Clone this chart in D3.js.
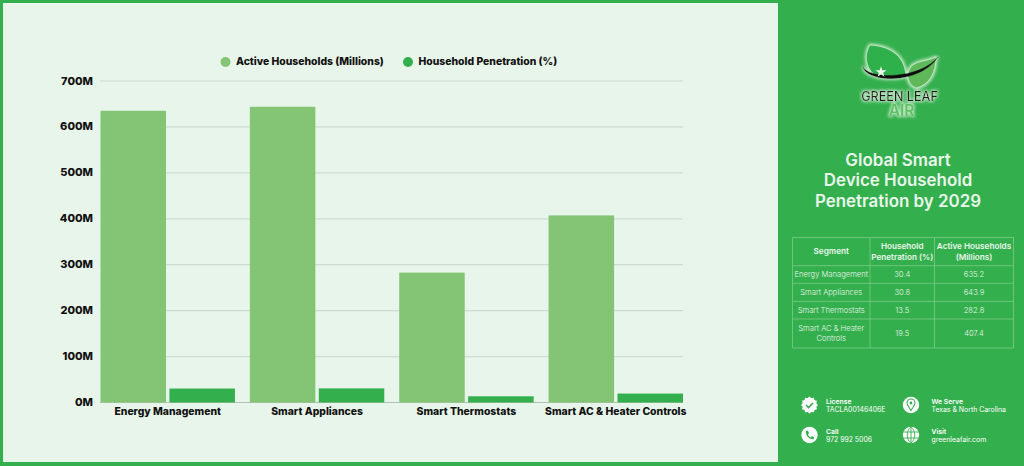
<!DOCTYPE html>
<html>
<head>
<meta charset="utf-8">
<script src="https://cdn.jsdelivr.net/npm/d3@7"></script>
<style>
  html, body { margin: 0; padding: 0; background: #34af4d; overflow: hidden; }
  svg { display: block; font-family: Inter, "Open Sans", sans-serif; }
</style>
</head>
<body>
<svg id="chart" width="1024" height="466"></svg>
<script>
const categories = ["Energy Management", "Smart Appliances", "Smart Thermostats", "Smart AC & Heater Controls"];
const seriesNames = ["Active Households (Millions)", "Household Penetration (%)"];
const activeHouseholds = [635.2, 643.9, 282.8, 407.4];
const penetration = [30.4, 30.8, 13.5, 19.5];
const yTicks = [0, 100, 200, 300, 400, 500, 600, 700];
const titleLines = ["Global Smart", "Device Household", "Penetration by 2029"];
const tableHeader = [["Segment"], ["Household", "Penetration (%)"], ["Active Households", "(Millions)"]];
const tableRows = [
    [["Energy Management"], "30.4", "635.2"],
    [["Smart Appliances"], "30.8", "643.9"],
    [["Smart Thermostats"], "13.5", "282.8"],
    [["Smart AC & Heater", "Controls"], "19.5", "407.4"]
];
const contacts = [
    { head: "License", body: "TACLA00146406E", icon: "badge" },
    { head: "We Serve", body: "Texas & North Carolina", icon: "pin" },
    { head: "Call", body: "972 992 5006", icon: "phone" },
    { head: "Visit", body: "greenleafair.com", icon: "globe" }
];

const green = "#34af4d", lightGreen = "#83c574", panelBg = "#e8f5ea", pale = "#e9f6eb";
const svg = d3.select("#chart");

// Panels
svg.append("rect").attr("width", 1024).attr("height", 466).attr("fill", green);
svg.append("rect").attr("x", 3).attr("y", 3).attr("width", 775).attr("height", 459).attr("fill", panelBg);

// Pale halo around the logo shapes and letters
const glow = svg.append("defs").append("filter").attr("id", "glow")
    .attr("x", "-30%").attr("y", "-30%").attr("width", "160%").attr("height", "160%");
glow.append("feMorphology").attr("in", "SourceAlpha").attr("operator", "dilate").attr("radius", 0.8).attr("result", "fat");
glow.append("feGaussianBlur").attr("in", "fat").attr("stdDeviation", 1.5).attr("result", "blur");
glow.append("feFlood").attr("flood-color", "#dff4df").attr("flood-opacity", 0.8).attr("result", "tint");
glow.append("feComposite").attr("in", "tint").attr("in2", "blur").attr("operator", "in").attr("result", "halo");
const merge = glow.append("feMerge");
merge.append("feMergeNode").attr("in", "halo");
merge.append("feMergeNode").attr("in", "SourceGraphic");

// Scales
const x0 = d3.scaleBand().domain(categories).range([100.5, 683]).paddingInner(0.1).paddingOuter(0);
const x1 = d3.scaleBand().domain(seriesNames).range([0, x0.bandwidth()]).paddingInner(0.05);
const y = d3.scaleLinear().domain([0, 700]).range([402.5, 81]);

// Gridlines
svg.append("g").selectAll("line")
    .data(yTicks)
    .enter().append("line")
    .attr("x1", 100).attr("x2", 683)
    .attr("y1", d => y(d)).attr("y2", d => y(d))
    .attr("stroke", d => d === 0 ? "#b4bfb6" : "#cfdcd2")
    .attr("stroke-width", 1.2);

// Y axis labels
svg.append("g").selectAll("text")
    .data(yTicks)
    .enter().append("text")
    .attr("x", 93).attr("y", d => y(d) + 0.5)
    .attr("text-anchor", "end").attr("dominant-baseline", "middle")
    .attr("font-size", 11).attr("font-weight", 800).attr("fill", "#111")
    .text(d => d + "M");

// Bars
const groups = svg.append("g").selectAll("g")
    .data(categories)
    .enter().append("g")
    .attr("transform", d => `translate(${x0(d)},0)`);

groups.append("rect")
    .attr("x", x1(seriesNames[0])).attr("width", x1.bandwidth())
    .attr("y", (d, i) => y(activeHouseholds[i]))
    .attr("height", (d, i) => y(0) - y(activeHouseholds[i]))
    .attr("fill", lightGreen);

groups.append("rect")
    .attr("x", x1(seriesNames[1])).attr("width", x1.bandwidth())
    .attr("y", (d, i) => y(penetration[i]))
    .attr("height", (d, i) => y(0) - y(penetration[i]))
    .attr("fill", green);

// Category labels
groups.append("text")
    .attr("x", x0.bandwidth() / 2).attr("y", 412.5)
    .attr("text-anchor", "middle").attr("dominant-baseline", "middle")
    .attr("font-size", 10.4).attr("font-weight", 800).attr("fill", "#111")
    .text(d => d);

// Legend
const legend = svg.append("g").selectAll("g")
    .data(seriesNames)
    .enter().append("g")
    .attr("transform", (d, i) => `translate(${[225.5, 408][i]},62)`);
legend.append("circle").attr("r", 5).attr("fill", (d, i) => i === 0 ? lightGreen : green);
legend.append("text")
    .attr("x", 10.5).attr("y", 0.5).attr("dominant-baseline", "middle")
    .attr("font-size", 10.4).attr("font-weight", 800).attr("fill", "#111")
    .text(d => d);

// Logo
const logo = svg.append("g").attr("filter", "url(#glow)");
const bigLeaf = "M870,45 C888,46 904,54 906,75 C898,79 886,79 878,77 C868,72 862,58 870,45Z";
const smallLeaf = "M910,68 C916,60 926,62 936,57 C936,72 930,85 916,88 C908,85 906,76 910,68Z";
const swoosh = "M863,67 C866,82 918,86 938,57 C920,79 870,80 863,67Z";
logo.append("path").attr("d", bigLeaf).attr("fill", "#2fb04b").attr("stroke", "#c8ecc9").attr("stroke-width", 0.8);
logo.append("path").attr("d", smallLeaf).attr("fill", "#5fb95a").attr("stroke", "#c8ecc9").attr("stroke-width", 0.8);
logo.append("path").attr("d", swoosh).attr("fill", "#111").attr("stroke", "#111").attr("stroke-width", 0.4);
logo.append("path")
    .attr("d", d3.symbol(d3.symbolStar, 38)())
    .attr("transform", "translate(881,72)").attr("fill", "#eef8ee");
logo.append("text").attr("x", 899.5).attr("y", 100.7).attr("text-anchor", "middle")
    .attr("font-size", 12.6).attr("font-weight", 500).attr("fill", "#1a1a1a").text("GREEN LEAF");
logo.append("text").attr("x", 901.5).attr("y", 116).attr("text-anchor", "middle")
    .attr("font-size", 15.5).attr("font-weight", 600).attr("fill", "#5cc260").text("AIR");

// Title
svg.append("g").selectAll("text")
    .data(titleLines)
    .enter().append("text")
    .attr("x", 898).attr("y", (d, i) => 161 + i * 20.5)
    .attr("text-anchor", "middle").attr("dominant-baseline", "middle")
    .attr("font-size", 16.9).attr("font-weight", 600).attr("fill", pale)
    .text(d => d);

// Table
const colEdges = [792.5, 870, 934.5, 1013.5];
const rowEdges = [237.5, 265.7, 283.3, 301.4, 319, 348];
const tableG = svg.append("g");
const gridColor = "#7ccb86";
tableG.selectAll(".col").data(colEdges).enter().append("line").attr("class", "col")
    .attr("x1", d => d).attr("x2", d => d).attr("y1", rowEdges[0]).attr("y2", rowEdges[5])
    .attr("stroke", gridColor).attr("stroke-width", 0.8);
tableG.selectAll(".row").data(rowEdges).enter().append("line").attr("class", "row")
    .attr("y1", d => d).attr("y2", d => d).attr("x1", colEdges[0]).attr("x2", colEdges[3])
    .attr("stroke", gridColor).attr("stroke-width", 0.8);

function cell(lines, col, row, size, weight) {
    const cx = (colEdges[col] + colEdges[col + 1]) / 2;
    const cy = (rowEdges[row] + rowEdges[row + 1]) / 2;
    const lh = row === 0 ? 11 : 10.4;
    lines.forEach((line, i) => {
        tableG.append("text")
            .attr("x", cx).attr("y", cy + 0.5 + (i - (lines.length - 1) / 2) * lh)
            .attr("text-anchor", "middle").attr("dominant-baseline", "middle")
            .attr("font-size", size).attr("font-weight", weight).attr("fill", pale)
            .text(line);
    });
}
tableHeader.forEach((lines, c) => cell(lines, c, 0, 8.2, 600));
tableRows.forEach((row, r) => {
    cell(row[0], 0, r + 1, 7.6, 300);
    cell([row[1]], 1, r + 1, 7.6, 300);
    cell([row[2]], 2, r + 1, 7.6, 300);
});

// Contact block
const scallop = d3.lineRadial().curve(d3.curveCatmullRomClosed)
    .angle(d => d * Math.PI / 12)
    .radius(d => d % 2 ? 7.2 : 8.4);
const icons = {
    badge(g) {
        g.append("path").attr("d", scallop(d3.range(24))).attr("fill", "#fff");
        g.append("path").attr("d", "M-3.5,0 L-1,2.5 L3.5,-2").attr("fill", "none").attr("stroke", green).attr("stroke-width", 1.6);
    },
    pin(g) {
        g.append("circle").attr("r", 8.2).attr("fill", "#fff");
        g.append("path").attr("d", "M0,5.5 C-2,2 -4,0 -4,-2 A4,4 0 1 1 4,-2 C4,0 2,2 0,5.5Z").attr("fill", "none").attr("stroke", green).attr("stroke-width", 1.1);
        g.append("circle").attr("cy", -2).attr("r", 1.4).attr("fill", green);
    },
    phone(g) {
        g.append("circle").attr("r", 8.2).attr("fill", "#fff");
        g.append("path").attr("d", "M-3.6,-4 L-1.6,-4.4 L-0.4,-1.6 L-1.6,-0.6 C-1,0.8 0,1.8 1.4,2.4 L2.4,1 L4.6,2.4 L4.2,4.2 C0,4.8 -4.4,0.6 -3.6,-4Z").attr("fill", green);
    },
    globe(g) {
        g.append("circle").attr("r", 8.2).attr("fill", "#fff");
        const lines = ["M-8.2,-3 H8.2", "M-8.2,3 H8.2", "M0,-8.2 V8.2", "M0,-8.2 C-5,-4 -5,4 0,8.2", "M0,-8.2 C5,-4 5,4 0,8.2"];
        lines.forEach(d => {
            g.append("path").attr("d", d).attr("fill", "none").attr("stroke", green).attr("stroke-width", 0.9);
        });
    }
};
const contactG = svg.append("g").selectAll("g")
    .data(contacts)
    .enter().append("g")
    .attr("transform", (d, i) => `translate(${i % 2 ? 911 : 809.5},${i < 2 ? 405 : 435})`);
contactG.each(function (d) { icons[d.icon](d3.select(this).append("g")); });
contactG.append("text")
    .attr("x", (d, i) => i % 2 ? 20.5 : 16.5).attr("y", -3)
    .attr("dominant-baseline", "middle")
    .attr("font-size", 6.8).attr("font-weight", 600).attr("fill", "#fff")
    .text(d => d.head);
contactG.append("text")
    .attr("x", (d, i) => i % 2 ? 20.5 : 16.5).attr("y", 5)
    .attr("dominant-baseline", "middle")
    .attr("font-size", 6.9).attr("font-weight", 400).attr("fill", "#fff")
    .text(d => d.body);
</script>
</body>
</html>
